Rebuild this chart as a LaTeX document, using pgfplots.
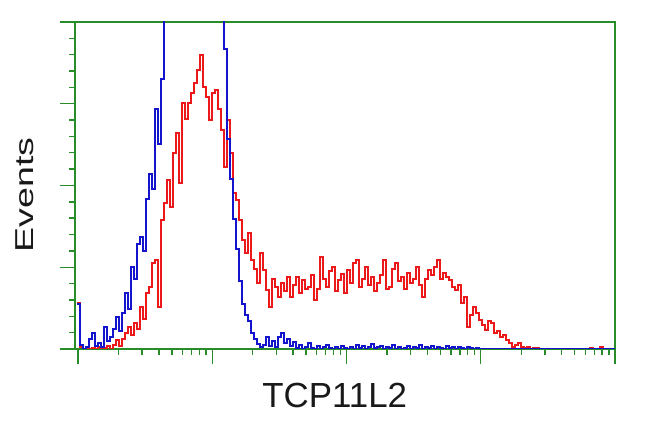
\documentclass[border=0pt]{standalone}
\usepackage{fontspec}
\setmainfont{Liberation Sans}
\usepackage{pgfplots}
\usepackage{graphicx}
\pgfplotsset{compat=1.18}
\definecolor{axgreen}{RGB}{40,140,40}
\definecolor{hblue}{RGB}{20,20,205}
\definecolor{hred}{RGB}{235,25,25}
\begin{document}
\begin{tikzpicture}
\useasboundingbox (0,0) rectangle (650bp,432bp);
\begin{axis}[
  at={(75bp,83bp)}, anchor=south west,
  scale only axis, width=540bp, height=327bp,
  xmin=75, xmax=615, ymin=0, ymax=327,
  axis line style={axgreen, line width=2bp},
  every tick/.style={axgreen, line width=1.4bp},
  tick pos=left, tick align=outside,
  major tick length=15bp, minor tick length=6bp,
  xtick={78,212.25,346.5,480.75,615},
  minor xtick={118.4,142.1,158.8,171.8,182.5,191.5,199.2,206.1,
               252.7,276.3,293.1,306.1,316.7,325.7,333.5,340.4,
               386.9,410.6,427.3,440.3,451.0,460.0,467.7,474.6,
               521.2,544.8,561.6,574.6,585.2,594.2,602.0,608.9},
  ytick={0,81.75,163.5,245.25,327},
  minor y tick num=4,
  xticklabels={}, yticklabels={},
  xlabel={TCP11L2},
  xlabel style={at={(axis description cs:0.481,-0.141)}, anchor=center,
    font=\fontsize{35}{40}\selectfont, text=black!90},
  ylabel={\scalebox{1.45}[1]{Events}},
  ylabel style={at={(axis description cs:-0.094,0.471)}, anchor=center,
    font=\fontsize{26}{30}\selectfont, text=black!90},
]
\addplot[const plot, hred, line width=1.5bp] coordinates {
(77,46)(80,2)(83,0)(86,0)(89,0)(92,1)(95,0)(98,2)(101,0)(104,1)(107,3)(110,0)
(113,4)(116,9)(119,3)(122,10)(125,16)(128,22)(131,14)(134,26)(137,20)(140,42)
(143,30)(146,56)(149,62)(152,86)(155,89)(158,42)(161,129)(164,146)(167,169)
(170,142)(173,196)(176,216)(179,166)(182,246)(185,230)(188,246)(191,256)
(194,266)(197,279)(200,294)(203,262)(206,252)(209,229)(212,256)(215,259)
(218,240)(221,219)(224,182)(227,229)(230,196)(233,156)(236,149)(239,129)
(242,109)(245,96)(248,116)(251,89)(254,80)(257,66)(260,96)(263,79)(266,59)
(269,42)(272,70)(275,62)(278,52)(281,66)(284,58)(287,72)(290,52)(293,64)
(296,72)(299,56)(302,69)(305,60)(308,62)(311,74)(314,49)(317,60)(320,92)
(323,70)(326,62)(329,78)(332,82)(335,58)(338,69)(341,75)(344,56)(347,79)
(350,66)(353,86)(356,89)(359,62)(362,70)(365,82)(368,64)(371,72)(374,58)
(377,66)(380,74)(383,89)(386,60)(389,62)(392,80)(395,86)(398,68)(401,72)
(404,60)(407,76)(410,66)(413,70)(416,82)(419,64)(422,52)(425,70)(428,79)
(431,74)(434,82)(437,89)(440,70)(443,76)(446,72)(449,69)(452,62)(455,59)
(458,64)(461,46)(464,52)(467,22)(470,34)(473,42)(476,36)(479,29)(482,24)
(485,19)(488,28)(491,26)(494,16)(497,18)(500,12)(503,14)(506,9)(509,6)
(512,2)(515,4)(518,6)(521,2)(524,1)(527,2)(530,0)(533,1)(536,1)(539,0)
(542,0)(545,0)(548,0)(560,0)(575,0)(590,1)(593,0)(600,2)(603,0)(610,0)(615,0)
};
\addplot[const plot, hblue, line width=1.5bp] coordinates {
(77,45)(80,4)(83,0)(86,2)(89,10)(92,16)(95,3)(98,6)(101,2)(104,22)(107,8)
(110,12)(113,20)(116,32)(119,18)(122,36)(125,56)(128,40)(131,82)(134,70)
(137,105)(140,112)(143,98)(146,150)(149,175)(152,160)(155,240)(158,205)
(161,270)(164,345)(167,360)(170,380)(173,400)(176,420)(179,430)(182,440)
(185,450)(188,460)(191,450)(194,470)(197,440)(200,460)(203,430)(206,440)
(209,410)(212,400)(215,390)(218,360)(221,340)(224,300)(227,210)(230,170)
(233,130)(236,100)(239,68)(242,45)(245,34)(248,28)(251,16)(254,10)(257,5)
(260,2)(263,4)(266,12)(269,3)(272,8)(275,2)(278,12)(281,16)(284,6)(287,10)
(290,3)(293,7)(296,1)(299,4)(302,0)(305,2)(308,6)(311,1)(314,0)(317,3)
(320,0)(323,2)(326,4)(329,1)(332,0)(335,2)(338,0)(341,3)(344,1)(347,0)
(350,2)(353,0)(356,4)(359,1)(362,3)(365,0)(368,2)(371,5)(374,1)(377,2)
(380,3)(383,0)(386,2)(389,1)(392,4)(395,0)(398,2)(401,0)(404,1)(407,3)
(410,0)(413,2)(416,1)(419,4)(422,0)(425,2)(428,1)(431,3)(434,0)(437,2)
(440,1)(443,0)(446,3)(449,1)(452,2)(455,0)(458,2)(461,1)(464,0)(467,2)
(470,1)(473,0)(476,1)(479,0)(482,0)(490,0)(500,0)(520,0)(560,0)(615,0)
};
\end{axis}
\end{tikzpicture}
\end{document}
